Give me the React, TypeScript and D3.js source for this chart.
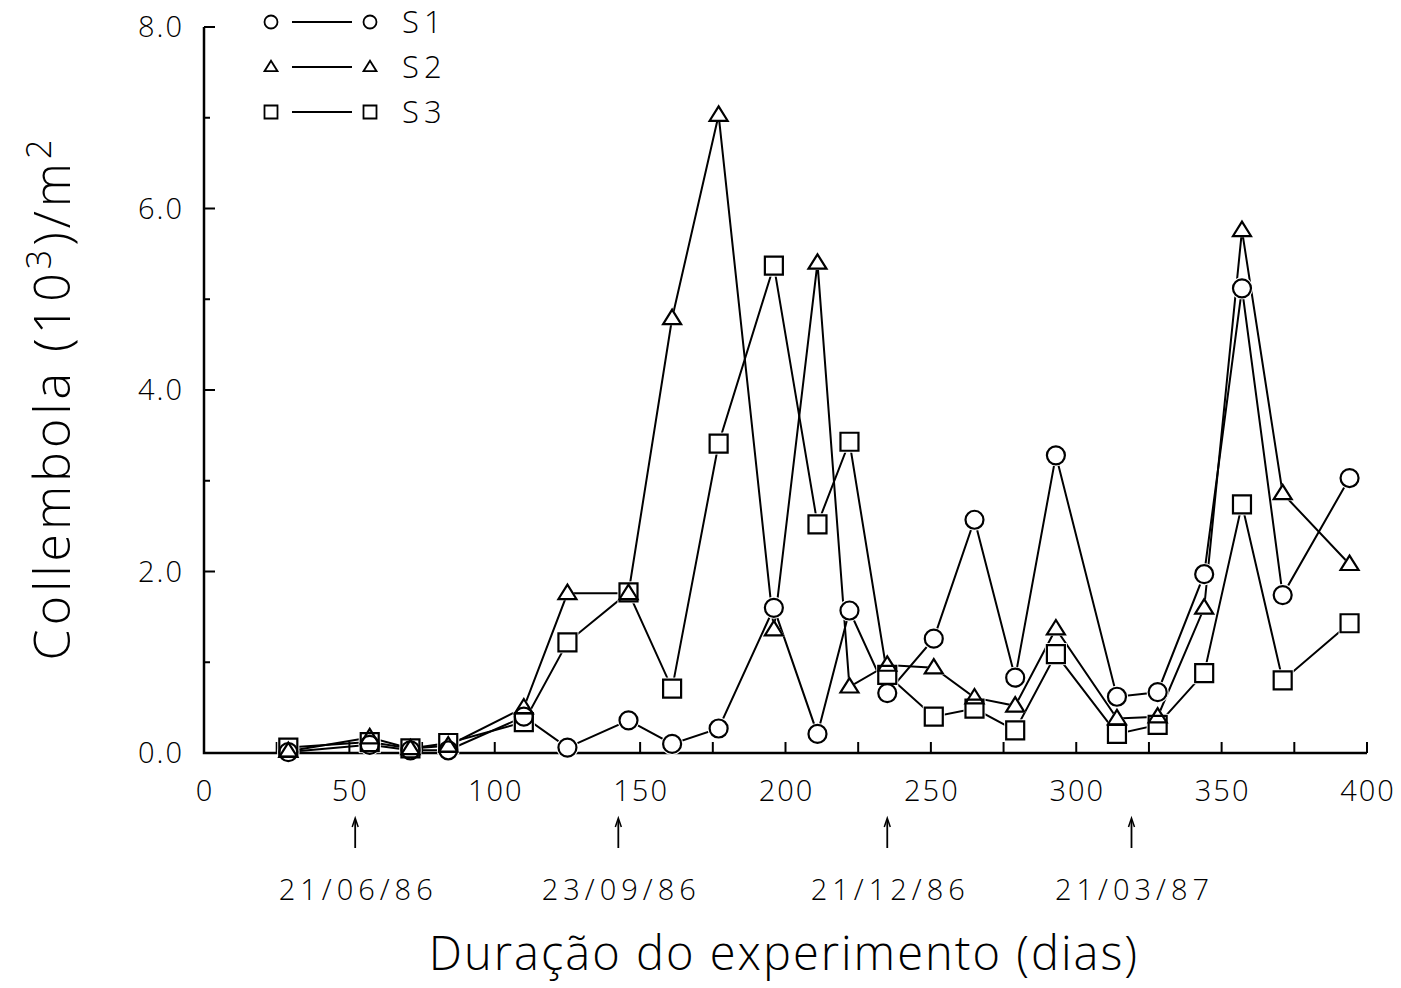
import React from "react";
import * as d3 from "d3";

const days = [29, 57, 71, 84, 110, 125, 146, 161, 177, 196, 211, 222, 235, 251, 265, 279, 293, 314, 328, 344, 357, 371, 394];
const s1 = [0.01, 0.09, 0.03, 0.03, 0.40, 0.06, 0.36, 0.10, 0.27, 1.60, 0.21, 1.57, 0.66, 1.26, 2.57, 0.83, 3.28, 0.62, 0.67, 1.97, 5.12, 1.74, 3.03];
const s2 = [0.02, 0.17, 0.05, 0.08, 0.50, 1.76, 1.76, 4.79, 7.03, 1.36, 5.40, 0.73, 0.97, 0.94, 0.61, 0.52, 1.37, 0.38, 0.40, 1.60, 5.76, 2.86, 2.08];
const s3 = [0.06, 0.12, 0.05, 0.11, 0.34, 1.22, 1.77, 0.71, 3.41, 5.37, 2.52, 3.43, 0.86, 0.40, 0.49, 0.25, 1.09, 0.21, 0.31, 0.88, 2.74, 0.80, 1.43];
const seriesNames = ["S1", "S2", "S3"];
const seriesShapes = ["circle", "triangle", "square"];
const xTickLabels = [0, 50, 100, 150, 200, 250, 300, 350, 400];
const yTickLabels = [0, 2, 4, 6, 8];
const dateMarks = [52, 142.5, 235, 319];
const dateLabels = ["21/06/86", "23/09/86", "21/12/86", "21/03/87"];

const FONT = "'Open Sans', 'DejaVu Sans', sans-serif";

function markerPath(shape: string, size: number): string {
  const h = size / 2;
  if (shape === "circle") {
    return `M${-h},0A${h},${h} 0 1,0 ${h},0A${h},${h} 0 1,0 ${-h},0Z`;
  }
  if (shape === "square") {
    return `M${-h},${-h}H${h}V${h}H${-h}Z`;
  }
  const th = size * 0.8;
  return `M0,${-th * 0.6}L${h},${th * 0.4}L${-h},${th * 0.4}Z`;
}

export default function App() {
  const W = 1401, H = 988;
  const x = d3.scaleLinear().domain([0, 400]).range([204, 1367]);
  const y = d3.scaleLinear().domain([0, 8]).range([753, 27]);
  const series = [s1, s2, s3];
  const line = d3.line<[number, number]>().x(d => x(d[0])).y(d => y(d[1]));
  const mSize = 18;

  const xTicks = d3.range(0, 401, 25);
  const yTicks = d3.range(0, 8.01, 1);

  return (
    <svg width={W} height={H} style={{ position: "absolute", left: 0, top: 0, background: "#fff" }}
      fontFamily={FONT}>
      {/* axes */}
      <path d={`M${x(0)},${y(8)}V${y(0)}H${x(400)}`} fill="none" stroke="#000" strokeWidth={2.5} />
      {yTicks.map(t => (
        <line key={"yt" + t} x1={x(0)} x2={x(0) + (t % 2 === 0 ? 11 : 6)} y1={y(t)} y2={y(t)}
          stroke="#000" strokeWidth={2} />
      ))}
      {xTicks.map(t => (
        <line key={"xt" + t} x1={x(t)} x2={x(t)} y1={y(0)} y2={y(0) - 11} stroke="#000" strokeWidth={2} />
      ))}
      {yTickLabels.map(t => (
        <text key={"yl" + t} x={184} y={y(t)} dy="0.36em" textAnchor="end" fontSize={29} fontWeight={300}
          letterSpacing={2}>
          {d3.format(".1f")(t)}
        </text>
      ))}
      {xTickLabels.map(t => (
        <text key={"xl" + t} x={x(t) + 1} y={801} textAnchor="middle" fontSize={29} fontWeight={300}
          letterSpacing={2}>
          {t}
        </text>
      ))}
      {/* axis titles */}
      <text transform={`translate(70,398) rotate(-90)`} textAnchor="middle" fontSize={50} fontWeight={300}
        letterSpacing={4}>
        Collembola (10<tspan dy={-19} fontSize={34}>3</tspan><tspan dy={19}>)/m</tspan>
        <tspan dy={-19} fontSize={34}>2</tspan>
      </text>
      <text x={784} y={970} textAnchor="middle" fontSize={47} fontWeight={300} letterSpacing={2}>
        Duração do experimento (dias)
      </text>
      {/* date annotations */}
      {dateMarks.map((d, i) => (
        <g key={"dm" + i}>
          <line x1={x(d)} x2={x(d)} y1={848} y2={820} stroke="#000" strokeWidth={1.8} />
          <path d={`M${x(d) - 3},${827}L${x(d)},${818}L${x(d) + 3},${827}`} fill="none" stroke="#000" strokeWidth={1.5} />
          <text x={x(d) + 3} y={900} textAnchor="middle" fontSize={29} fontWeight={300} letterSpacing={5}>
            {dateLabels[i]}
          </text>
        </g>
      ))}
      {/* lines */}
      {series.map((s, si) => (
        <path key={"ln" + si} d={line(days.map((d, i) => [d, s[i]] as [number, number])) || ""}
          fill="none" stroke="#000" strokeWidth={2} />
      ))}
      {/* knockouts */}
      {series.map((s, si) => (
        <g key={"ko" + si}>
          {days.map((d, i) => (
            <path key={i} d={markerPath(seriesShapes[si], mSize + 4)} transform={`translate(${x(d)},${y(s[i])})`}
              fill="#fff" stroke="none" />
          ))}
        </g>
      ))}
      {/* markers */}
      {series.map((s, si) => (
        <g key={"mk" + si}>
          {days.map((d, i) => (
            <path key={i} d={markerPath(seriesShapes[si], mSize)} transform={`translate(${x(d)},${y(s[i])})`}
              fill="none" stroke="#000" strokeWidth={2.2} />
          ))}
        </g>
      ))}
      {/* legend */}
      {seriesNames.map((n, i) => {
        const ly = 22 + i * 45;
        return (
          <g key={"lg" + i}>
            <path d={markerPath(seriesShapes[i], 13)} transform={`translate(271,${ly})`} fill="none" stroke="#000" strokeWidth={1.8} />
            <line x1={292} x2={352} y1={ly} y2={ly} stroke="#000" strokeWidth={1.8} />
            <path d={markerPath(seriesShapes[i], 13)} transform={`translate(370,${ly})`} fill="none" stroke="#000" strokeWidth={1.8} />
            <text x={402} y={ly} dy="0.36em" fontSize={31} fontWeight={300} letterSpacing={5}>{n}</text>
          </g>
        );
      })}
    </svg>
  );
}
